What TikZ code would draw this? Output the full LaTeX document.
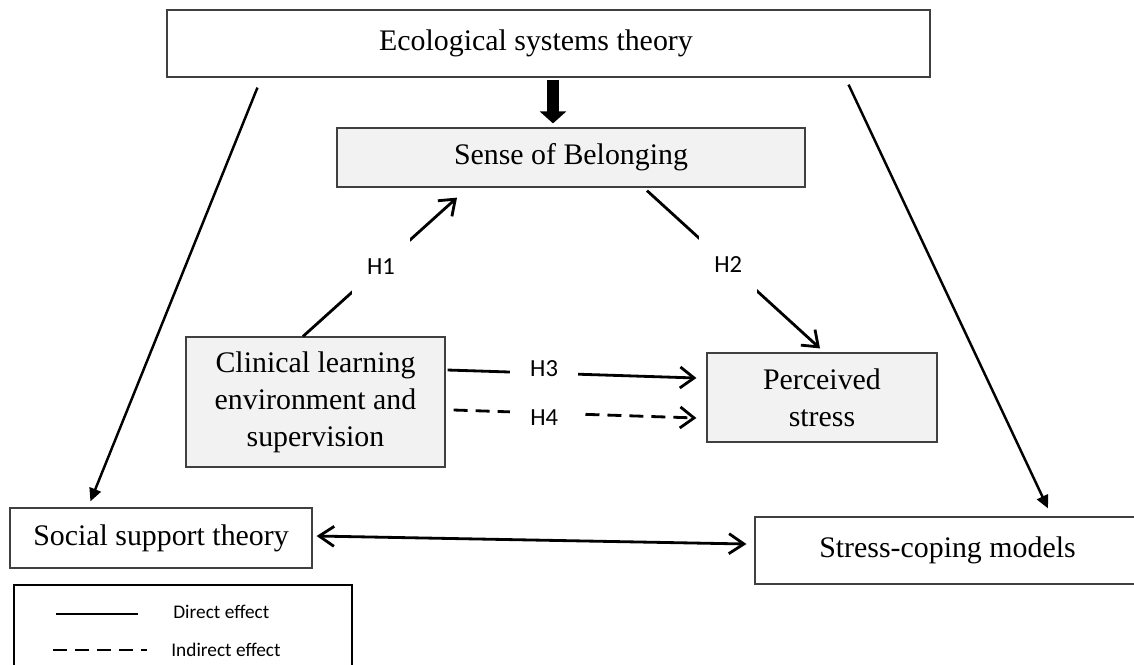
\documentclass[tikz,border=0pt]{standalone}
\usepackage{fontspec}
\setmainfont{Liberation Serif}
\newfontfamily\hypfont{Carlito}
\usetikzlibrary{arrows.meta, positioning}
\usepackage{xcolor}
\definecolor{BoxGray}{RGB}{242,242,242}
\definecolor{EdgeGray}{RGB}{64,64,64}

\begin{document}
\begin{tikzpicture}[
  x=0.02cm, y=-0.02cm,
  font=\fontsize{17}{21}\selectfont,
  every node/.style={align=center},
  theory/.style={draw=EdgeGray, line width=0.7pt, fill=white, inner sep=0pt},
  construct/.style={theory, fill=BoxGray},
  link/.style={line width=1.4pt, -{Triangle[length=0.26cm, width=0.24cm]}},
  hyp/.style={line width=1.6pt, -{Straight Barb[length=0.28cm, width=0.42cm]}},
  gap/.style={fill=white, inner sep=0pt, font=\hypfont\fontsize{14}{16}\selectfont},
  keytext/.style={anchor=west, inner sep=0pt, font=\hypfont\fontsize{11}{13}\selectfont}
  ]
\useasboundingbox (0,0) rectangle (1134,664);

% Theories
\node[theory, minimum width=15.26cm, minimum height=1.34cm] (eco) at (548.5,43.5) {Ecological systems theory\hspace*{0.5cm}};
\node[theory, minimum width=6.04cm, minimum height=1.2cm] (soc) at (161,538) {Social support theory};
\node[theory, minimum width=7.7cm, minimum height=1.34cm] (cope) at (947.5,550.5) {Stress-coping models};

% Constructs
\node[construct, minimum width=9.36cm, minimum height=1.18cm] (belong) at (571,157.5) {Sense of Belonging};
\node[construct, minimum width=5.18cm, minimum height=2.6cm] (clin) at (315.5,402) {Clinical learning\\environment and\\supervision};
\node[construct, minimum width=4.6cm, minimum height=1.78cm] (stress) at (822,397.5) {Perceived\\stress};

% Framework arrows
\draw[line width=0.24cm, -{Triangle[length=0.24cm, width=0.52cm]}] ([xshift=0.09cm, yshift=-0.04cm]eco.south) -- ([xshift=0.09cm, yshift=0.08cm]eco.south |- belong.north);
\draw[link] ([xshift=1.82cm, yshift=-0.2cm]eco.south west) -- ([xshift=1.62cm, yshift=0.12cm]soc.north west);
\draw[link] ([xshift=-1.64cm, yshift=-0.14cm]eco.south east) -- ([xshift=2.01cm, yshift=0.16cm]cope.north);
\draw[line width=1.6pt, {Straight Barb[length=0.3cm, width=0.4cm]}-{Straight Barb[length=0.3cm, width=0.4cm]}] ([xshift=0.08cm, yshift=0.04cm]soc.east) -- ([xshift=-0.16cm, yshift=0.13cm]cope.west);

% Hypotheses
\draw[hyp] ([xshift=-0.25cm]clin.north) -- node[gap, pos=0.506, minimum width=1.16cm, minimum height=1.16cm] {H1} ([xshift=-2.28cm, yshift=-0.2cm]belong.south);
\draw[hyp] ([xshift=1.52cm, yshift=-0.06cm]belong.south) -- node[gap, pos=0.47, minimum width=1.16cm, minimum height=1.16cm] {H2} ([xshift=-0.04cm, yshift=0.08cm]stress.north);
\draw[hyp] ([xshift=0.04cm, yshift=0.64cm]clin.east) -- node[gap, pos=0.388, yshift=0.1cm, minimum width=1.36cm, minimum height=0.5cm] {H3} ([xshift=-0.2cm, yshift=0.39cm]stress.west);
\draw[hyp, dash pattern=on 0.28cm off 0.16cm] ([xshift=0.16cm, yshift=-0.16cm]clin.east) -- node[gap, pos=0.373, yshift=-0.1cm, minimum width=1.36cm, minimum height=0.5cm] {H4} ([xshift=-0.2cm, yshift=-0.41cm]stress.west);

% Legend
\node[draw=black, line width=1pt, minimum width=6.76cm, minimum height=2.2cm, anchor=north west, inner sep=0pt] (legend) at (13,584) {};
\node[keytext] (direct) at (173,612) {Direct effect};
\node[keytext] (indirect) at (171,650) {Indirect effect};
\draw[line width=1.6pt] (56,614) -- (138,614);
\draw[line width=1.6pt, dash pattern=on 0.28cm off 0.16cm] (53,650) -- (147,650);
\end{tikzpicture}
\end{document}
